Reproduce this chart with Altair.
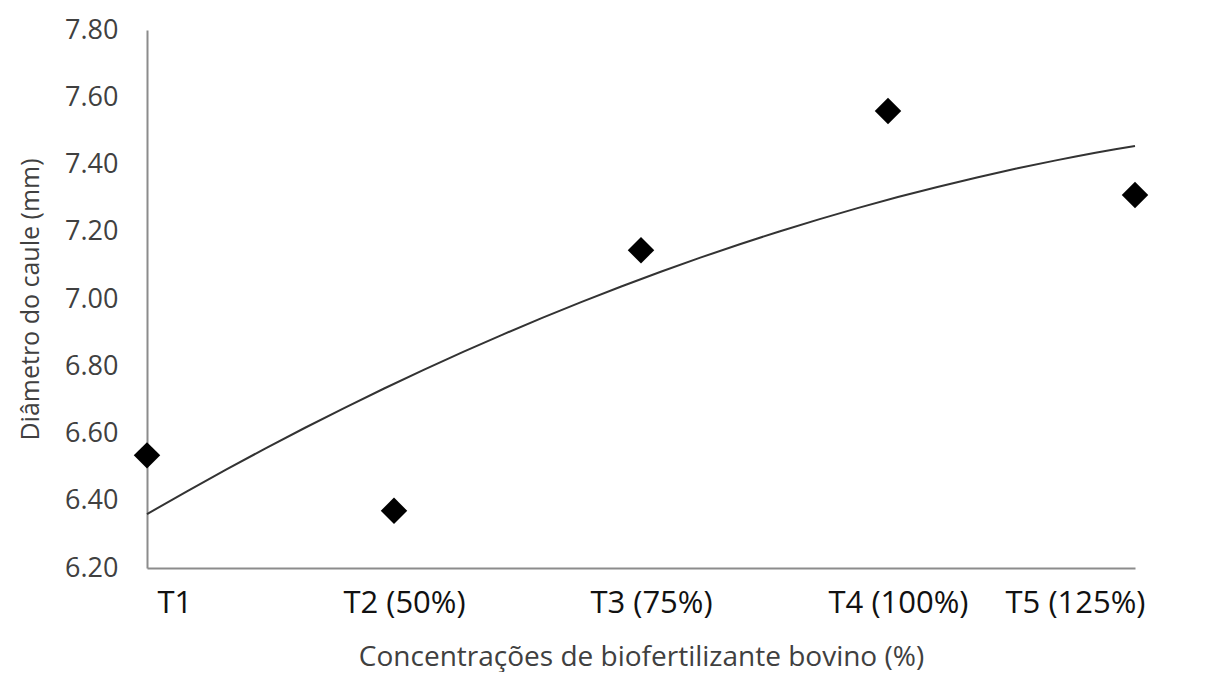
import altair as alt
import pandas as pd

categories = ["T1", "T2 (50%)", "T3 (75%)", "T4 (100%)", "T5 (125%)"]
positions = [1, 2, 3, 4, 5]
diameters = [6.535, 6.37, 7.145, 7.559, 7.309]
y_ticks = [6.2, 6.4, 6.6, 6.8, 7.0, 7.2, 7.4, 7.6, 7.8]

df = pd.DataFrame({"x": positions, "y": diameters, "cat": categories})

label_expr = "[" + ",".join("'" + c + "'" for c in categories) + "][datum.value - 1]"
FONT = "Open Sans"

x_enc = alt.X(
    "x:Q",
    scale=alt.Scale(domain=[1, 5], nice=False, zero=False),
    axis=alt.Axis(
        values=positions, labelExpr=label_expr, title="Concentrações de biofertilizante bovino (%)",
        grid=False, ticks=False, domainColor="#8c8c8c", domainWidth=2,
        labelFont=FONT, labelFontSize=31, labelColor="#111111", labelPadding=20, labelOffset=10,
        titleFont=FONT, titleFontSize=28, titleFontWeight="normal", titleColor="#404040", titlePadding=25,
    ),
)
y_enc = alt.Y(
    "y:Q",
    scale=alt.Scale(domain=[6.2, 7.8], nice=False, zero=False),
    axis=alt.Axis(
        values=y_ticks, format=".2f", title="Diâmetro do caule (mm)",
        grid=False, ticks=False, domainColor="#8c8c8c", domainWidth=2,
        labelFont=FONT, labelFontSize=27, labelColor="#404040", labelPadding=29,
        titleFont=FONT, titleFontSize=25, titleFontWeight="normal", titleColor="#404040",
        titleX=-104, titleY=269,
    ),
)

points = alt.Chart(df).mark_point(shape="diamond", filled=True, color="black", size=700, opacity=1).encode(x=x_enc, y=y_enc)
trend = alt.Chart(df).transform_regression("x", "y", method="poly", order=2).mark_line(
    color="#333333", strokeWidth=2
).encode(x=x_enc, y=y_enc)

chart = (trend + points).properties(
    width=988, height=538,
    background="white",
    autosize=alt.AutoSizeParams(type="none"),
    padding={"left": 139, "top": 22, "right": 70, "bottom": 104},
).configure_view(strokeWidth=0, stroke="transparent")

chart.save("out.html", embed_options={"renderer": "svg", "actions": False})
